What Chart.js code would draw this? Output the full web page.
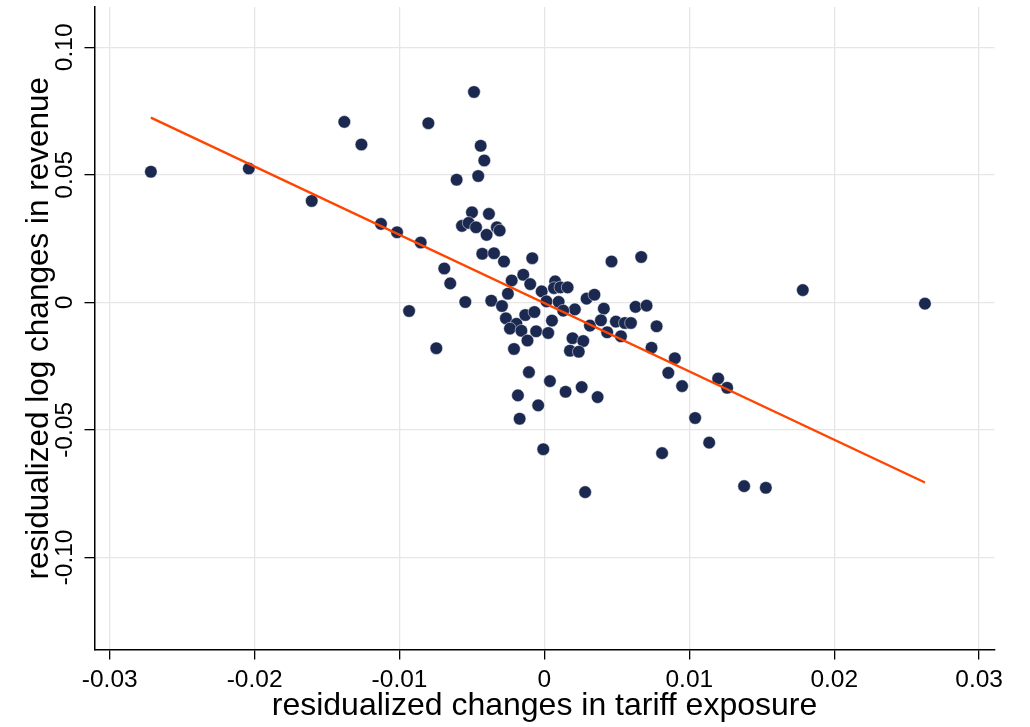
<!DOCTYPE html>
<html>
<head>
<meta charset="utf-8">
<script src="https://cdn.jsdelivr.net/npm/chart.js@4/dist/chart.umd.min.js"></script>
<style>
  html, body { margin: 0; padding: 0; background: #ffffff; }
  #wrap { width: 1030px; height: 727px; position: relative; }
</style>
</head>
<body>
<div id="wrap"><canvas id="c"></canvas></div>
<script>
// Residualized changes in tariff exposure (x) vs residualized log revenue changes (y)
const tariffChange = [
  -0.02716, -0.02040, -0.01606, -0.01381, -0.01263, -0.00801, -0.00486, -0.00440, -0.00415, -0.00606,
  -0.00457, -0.00500, -0.00383, -0.00569, -0.00523, -0.00472, -0.00399, -0.00328, -0.00309, -0.01128,
  -0.01017, -0.00854, -0.00691, -0.00650, -0.00546, -0.00934, -0.00429, -0.00348, -0.00279, -0.00084,
  -0.00226, -0.00146, -0.00098, -0.00252, -0.00367, -0.00293, -0.00019,  0.00074,  0.00066,  0.00110,
   0.00160,  0.00014,  0.00098,  0.00210,  0.00463,  0.00668,  0.00291,  0.00345,  0.00410,  0.00629,
   0.00705, -0.00266, -0.00193, -0.00238, -0.00159, -0.00117, -0.00132, -0.00069, -0.00057,  0.00026,
   0.00052,  0.00130,  0.00314,  0.00390,  0.00493,  0.00555,  0.00597,  0.00433,  0.00528,  0.00774,
   0.00739,  0.00900,  0.00855,  0.00950,  0.00194,  0.00268,  0.00176,  0.00237, -0.00210, -0.00746,
  -0.00107,  0.00038,  0.00146,  0.00257,  0.00367, -0.00183, -0.00043, -0.00171, -0.00008,  0.00812,
   0.00281,  0.01199,  0.01261,  0.01040,  0.01137,  0.01378,  0.01528,  0.01783,  0.02626
];
const revenueChange = [
   0.05121,  0.05250,  0.03976,  0.07076,  0.06188,  0.07025,  0.08249,  0.06138,  0.05563,  0.04809,
   0.04953,  0.03530,  0.03468,  0.02998,  0.03116,  0.02944,  0.02647,  0.02944,  0.02815,  0.03077,
   0.02748,  0.02346,  0.01329,  0.00743,  0.00012, -0.00340,  0.01904,  0.01927,  0.01603,  0.01732,
   0.00860,  0.01083,  0.00715,  0.00340,  0.00066, -0.00145,  0.00430,  0.00821,  0.00559,  0.00586,
   0.00586,  0.00039,  0.00020, -0.00274,  0.01603,  0.01779,  0.00145,  0.00301, -0.00246, -0.00176,
  -0.00129, -0.00625, -0.00841, -0.01028, -0.01114, -0.01497, -0.00496, -0.00379, -0.01134, -0.01200,
  -0.00715, -0.00324, -0.00911, -0.00704, -0.00755, -0.00809, -0.00809, -0.01173, -0.01329, -0.00938,
  -0.01779, -0.02189, -0.02764, -0.03284, -0.01407, -0.01517, -0.01896, -0.01935, -0.01826, -0.01798,
  -0.02737, -0.03088, -0.03507, -0.03323, -0.03714, -0.03647, -0.04038, -0.04562, -0.05758, -0.05911,
  -0.07440, -0.02983, -0.03350, -0.04535, -0.05500, -0.07205, -0.07271,  0.00481, -0.00051
];

// Fitted regression line at the extremes of the observed tariff changes
const fitX = [-0.02716, 0.02626];
const fitY = [0.07244, -0.07064];

// Axis ticks and their printed labels
const xTicks = [-0.03, -0.02, -0.01, 0, 0.01, 0.02, 0.03];
const xTickLabels = ['-0.03', '-0.02', '-0.01', '0', '0.01', '0.02', '0.03'];
const yTicks = [-0.10, -0.05, 0, 0.05, 0.10];
const yTickLabels = ['-0.10', '-0.05', '0', '0.05', '0.10'];

const FONT = "'Liberation Sans', Arial, Helvetica, sans-serif";

const scatterPoints = tariffChange.map((x, i) => ({ x, y: revenueChange[i] }));
const fitPoints = fitX.map((x, i) => ({ x, y: fitY[i] }));

// Draws the vertical y-axis tick labels (rotated, reading bottom to top)
const verticalYLabels = {
  id: 'verticalYLabels',
  afterDraw(chart) {
    const ctx = chart.ctx;
    const ys = chart.scales.y;
    ctx.save();
    ctx.fillStyle = '#000000';
    ctx.font = '24.5px ' + FONT;
    ctx.textAlign = 'center';
    ctx.textBaseline = 'alphabetic';
    yTicks.forEach((v, i) => {
      const py = ys.getPixelForValue(v);
      ctx.save();
      ctx.translate(72, py);
      ctx.rotate(-Math.PI / 2);
      ctx.fillText(yTickLabels[i], 0, 0);
      ctx.restore();
    });
    ctx.restore();
  }
};

new Chart(document.getElementById('c'), {
  type: 'scatter',
  data: {
    datasets: [
      {
        type: 'line',
        data: fitPoints,
        borderColor: '#ff4500',
        borderWidth: 2.4,
        pointRadius: 0,
        fill: false,
        tension: 0,
        order: 0
      },
      {
        type: 'scatter',
        data: scatterPoints,
        backgroundColor: '#1b2950',
        borderColor: 'rgba(255,255,255,0.7)',
        borderWidth: 0.7,
        pointRadius: 6.3,
        order: 1
      }
    ]
  },
  options: {
    responsive: true,
    maintainAspectRatio: false,
    animation: false,
    events: [],
    layout: { padding: { top: 5, right: 35.5, bottom: 0, left: 0 } },
    plugins: { legend: { display: false }, tooltip: { enabled: false } },
    scales: {
      x: {
        type: 'linear',
        min: -0.03105,
        max: 0.03106,
        afterBuildTicks: s => { s.ticks = xTicks.map(v => ({ value: v })); },
        afterFit: s => { s.height = 77.5; },
        grid: { color: '#e6e6e6', lineWidth: 1.3, tickColor: '#000000', tickLength: 10, tickWidth: 1.3 },
        border: { display: true, color: '#000000', width: 1.5 },
        ticks: {
          color: '#000000',
          font: { family: FONT, size: 24.5 },
          padding: 6,
          maxRotation: 0,
          autoSkip: false,
          callback: (v) => { const i = xTicks.indexOf(v); return i >= 0 ? xTickLabels[i] : ''; }
        },
        title: {
          display: true,
          text: 'residualized changes in tariff exposure',
          color: '#000000',
          font: { family: FONT, size: 32 },
          padding: { top: 0, bottom: 2 }
        }
      },
      y: {
        type: 'linear',
        min: -0.1361,
        max: 0.1158,
        afterBuildTicks: s => { s.ticks = yTicks.map(v => ({ value: v })); },
        afterFit: s => { s.width = 94.5; },
        grid: { color: '#e6e6e6', lineWidth: 1.3, tickColor: '#000000', tickLength: 10, tickWidth: 1.3 },
        border: { display: true, color: '#000000', width: 1.5 },
        ticks: { display: false },
        title: {
          display: true,
          text: 'residualized log changes in revenue',
          color: '#000000',
          font: { family: FONT, size: 31.5 },
          padding: { top: 20, bottom: 0 }
        }
      }
    }
  },
  plugins: [verticalYLabels]
});
</script>
</body>
</html>
